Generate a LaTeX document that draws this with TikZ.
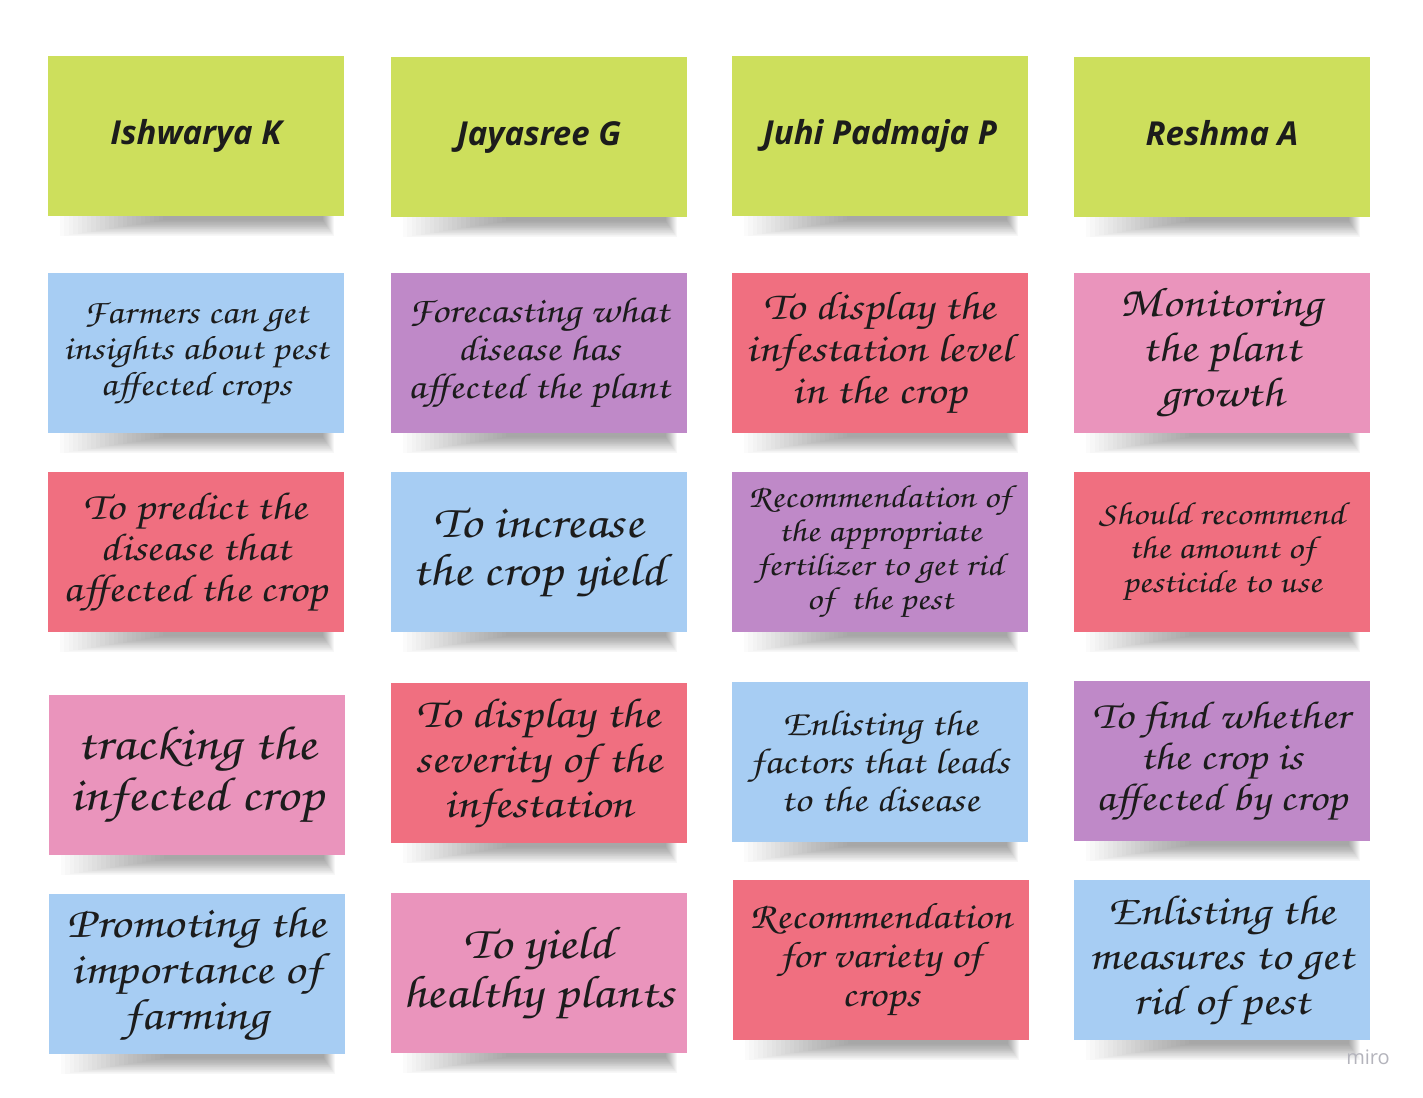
\documentclass[tikz,border=0pt]{standalone}
\usepackage{fontspec}
\usetikzlibrary{calc}
\newfontfamily\headfont{Open Sans}
\newfontfamily\handfont[FakeStretch=1.18,FakeSlant=-0.08]{TeX Gyre Chorus}
\definecolor{stickygreen}{HTML}{CDDF5C}
\definecolor{stickyblue}{HTML}{A7CDF3}
\definecolor{stickypurple}{HTML}{BF89C8}
\definecolor{stickyred}{HTML}{F06F80}
\definecolor{stickypink}{HTML}{EA94BC}
\definecolor{inkcolor}{HTML}{1C1C1C}
\definecolor{markgray}{HTML}{B4B4BC}
\pgfdeclarelayer{paper}
\pgfdeclarelayer{shade}
\pgfsetlayers{paper,shade,main}
\begin{document}
\begin{tikzpicture}[x=0.5pt,y=-0.5pt,
  note/.style={minimum width=148pt, minimum height=80pt, inner sep=0pt,
    align=center, text=inkcolor},
  head/.style={note, fill=stickygreen, text height=12pt, text depth=4pt,
    font=\headfont\bfseries\itshape\fontsize{16.5}{19}\selectfont},
  hand/.style 2 args={note, font=\handfont\fontsize{#1}{#2}\selectfont}]
\begin{pgfonlayer}{paper}
  \fill[white] (0,0) rectangle (1423,1097);
\end{pgfonlayer}
\useasboundingbox (0,0) rectangle (1423,1097);

% header row: team members
\node[head] (h1) at (196,136) {Ishwarya K};
\node[head] (h2) at (539,137) {Jayasree G};
\node[head] (h3) at (880,136) {Juhi Padmaja P};
\node[head] (h4) at (1222,137) {Reshma A};

% second row
\node[hand={17}{18}, fill=stickyblue] (n12) at (196,353)
  {Farmers can get\\insights about pest\\affected crops};
\node[hand={18}{19}, fill=stickypurple] (n22) at (539,353)
  {Forecasting what\\disease has\\affected the plant};
\node[hand={20}{21}, fill=stickyred] (n32) at (880,353)
  {To display the\\infestation level\\in the crop};
\node[hand={21}{22.5}, fill=stickypink] (n42) at (1222,353)
  {Monitoring\\the plant\\growth};

% third row
\node[hand={19.5}{20.5}, fill=stickyred] (n13) at (196,552)
  {To predict the\\disease that\\affected the crop};
\node[hand={23}{24}, fill=stickyblue] (n23) at (539,552)
  {To increase\\the crop yield};
\node[hand={16}{17}, fill=stickypurple] (n33) at (880,552)
  {Recommendation of\\the appropriate\\fertilizer to get rid\\of\ \ the pest};
\node[hand={16}{17}, fill=stickyred] (n43) at (1222,552)
  {Should recommend\\the amount of\\pesticide to use};

% fourth row
\node[hand={24}{25.5}, fill=stickypink] (n14) at (197,775)
  {tracking the\\infected crop};
\node[hand={21}{22.5}, fill=stickyred] (n24) at (539,763)
  {To display the\\severity of the\\infestation};
\node[hand={18}{19}, fill=stickyblue] (n34) at (880,762)
  {Enlisting the\\factors that leads\\to the disease};
\node[hand={19.5}{20.5}, fill=stickypurple] (n44) at (1222,761)
  {To find whether\\the crop is\\affected by crop};

% fifth row
\node[hand={22}{23}, fill=stickyblue] (n15) at (197,974)
  {Promoting the\\importance of\\farming};
\node[hand={23}{24.5}, fill=stickypink] (n25) at (539,973)
  {To yield\\healthy plants};
\node[hand={18.5}{19.5}, fill=stickyred] (n35) at (881,960)
  {Recommendation\\for variety of\\crops};
\node[hand={21}{22.5}, fill=stickyblue] (n45) at (1222,960)
  {Enlisting the\\measures to get\\rid of pest};

% soft shadow under the lower edge of every note, darkest towards the right
\begin{pgfonlayer}{shade}
  \foreach \n in {h1,h2,h3,h4,n12,n22,n32,n42,n13,n23,n33,n43,
                  n14,n24,n34,n44,n15,n25,n35,n45} {
    \foreach \i in {0,...,23} {
      \fill[black, opacity=0.017]
        ($(\n.south west)+({12+4.5*\i},-4)$) rectangle
        ($(\n.south east)+({-10-0.5*\i},{20-0.7*\i})$);
    }
  }
\end{pgfonlayer}

% board watermark
\node[text=markgray, font=\headfont\fontsize{10}{12}\selectfont] (mark) at (1368,1057) {miro};
\end{tikzpicture}
\end{document}
